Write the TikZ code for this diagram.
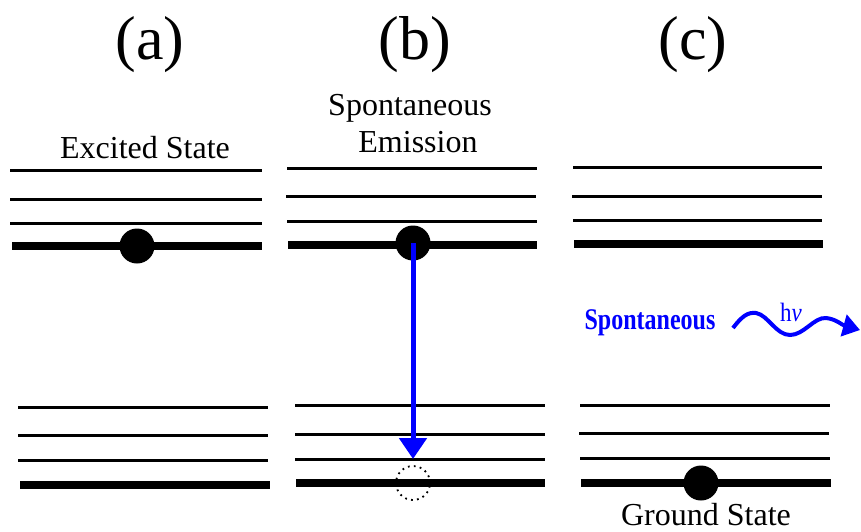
\documentclass[tikz,border=0pt]{standalone}
\usepackage{fontspec}
\setmainfont{Liberation Serif}
\usetikzlibrary{arrows.meta}
\definecolor{pblue}{RGB}{0,0,255}
\begin{document}
\begin{tikzpicture}[x=1pt,y=-1pt,
 thinlvl/.style={line width=3pt},
 thicklvl/.style={line width=8.5pt},
 ball/.style={circle,fill=black,inner sep=0pt,minimum size=35pt},
 lbl/.style={font=\fontsize{32}{35}\selectfont, inner sep=0pt},
 big/.style={font=\fontsize{62}{70}\selectfont, inner sep=0pt}]
\useasboundingbox (0,0) rectangle (861,531);
% titles
\node[big] (ta) at (150,45) {(a)};
\node[big] (tb) at (415,45) {(b)};
\node[big] (tc) at (693,45) {(c)};
\node[lbl] (exc) at (145,148) {Excited State};
\node[lbl] (sp1) at (410,108) {Spontaneous};
\node[lbl] (sp2) at (418,142) {Emission};
\node[lbl] (gnd) at (706,515) {Ground State};
% panel (a)
\draw[thinlvl] (10,170) -- (262,170);
\draw[thinlvl] (10,199) -- (262,199);
\draw[thinlvl] (10,223) -- (262,223);
\draw[thicklvl] (12,246) -- (262,246);
\draw[thinlvl] (18,407) -- (268,407);
\draw[thinlvl] (18,435) -- (268,435);
\draw[thinlvl] (18,460) -- (268,460);
\draw[thicklvl] (20,485) -- (270,485);
\node[ball] (ea) at (137,246) {};
% panel (b)
\draw[thinlvl] (287,168) -- (537,168);
\draw[thinlvl] (286,196) -- (536,196);
\draw[thinlvl] (287,221) -- (537,221);
\draw[thicklvl] (288,245) -- (537,245);
\draw[thinlvl] (295,405) -- (545,405);
\draw[thinlvl] (295,434) -- (545,434);
\draw[thinlvl] (295,459) -- (545,459);
\draw[thicklvl] (296,483) -- (545,483);
\node[ball] (eb) at (413,243) {};
\node[circle,draw,inner sep=0pt,minimum size=34pt,line width=1.8pt,dash pattern=on 1.8pt off 4.2pt] (hole) at (413,483) {};
\coordinate (tip) at (413,459);
\draw[pblue,line width=5pt,-{Triangle[length=21pt,width=27pt]}] (eb.center) -- (tip);
% panel (c)
\draw[thinlvl] (573,167) -- (822,167);
\draw[thinlvl] (572,196) -- (822,196);
\draw[thinlvl] (573,220) -- (822,220);
\draw[thicklvl] (574,244) -- (823,244);
\draw[thinlvl] (580,405) -- (830,405);
\draw[thinlvl] (579,433) -- (829,433);
\draw[thinlvl] (580,458) -- (830,458);
\draw[thicklvl] (581,483) -- (831,483);
\node[ball] (ec) at (701,483) {};
% photon
\node[pblue,inner sep=0pt,font=\fontsize{24}{26}\selectfont\bfseries] (spc) at (650,323) {\scalebox{1}[1.25]{Spontaneous}};
\node[pblue,inner sep=0pt,font=\fontsize{23}{25}\selectfont] (hnu) at (791,312) {\scalebox{1}[1.15]{h\textit{ν}}};
\coordinate (w0) at (733,328);
\coordinate (w4) at (860,330);
\draw[pblue,line width=4pt,-{Triangle[length=17pt,width=22pt]}] (w0) .. controls (742,316) and (748,312) .. (756,313)
  .. controls (768,315) and (776,335) .. (790,335)
  .. controls (804,335) and (814,317) .. (826,318)
  .. controls (836,319) and (842,325) .. (w4);
\end{tikzpicture}
\end{document}
